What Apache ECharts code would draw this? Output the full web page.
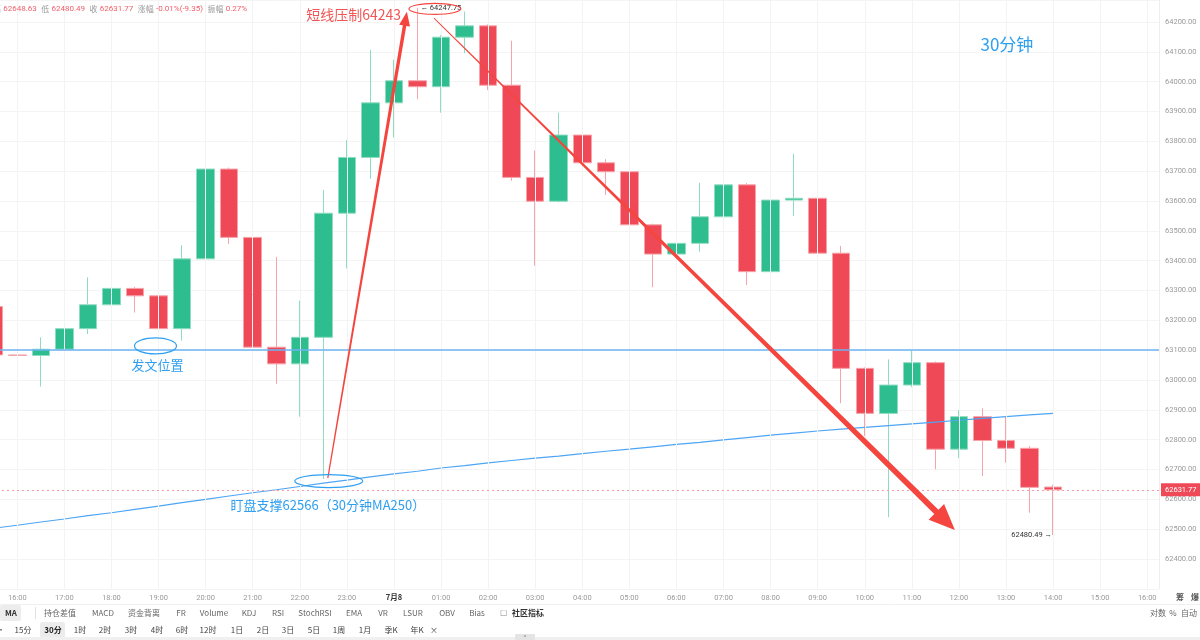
<!DOCTYPE html>
<html>
<head>
<meta charset="utf-8">
<script src="https://cdn.jsdelivr.net/npm/echarts@6.0.0/dist/echarts.min.js"></script>
<style>
html,body{margin:0;padding:0;background:#fff;overflow:hidden;width:1200px;height:640px;}
/* 画布向左多出 18px，让第一根K线只露出一点 */
#main{width:1218px;height:640px;margin-left:-18px;}
</style>
</head>
<body>
<div id="main"></div>
<script>
// 30分钟K线，07-07 15:30 ~ 07-08 16:00
var cats = [
  '07-07 15:30','07-07 16:00','07-07 16:30','07-07 17:00','07-07 17:30','07-07 18:00','07-07 18:30',
  '07-07 19:00','07-07 19:30','07-07 20:00','07-07 20:30','07-07 21:00','07-07 21:30','07-07 22:00',
  '07-07 22:30','07-07 23:00','07-07 23:30','07-08 00:00','07-08 00:30','07-08 01:00','07-08 01:30',
  '07-08 02:00','07-08 02:30','07-08 03:00','07-08 03:30','07-08 04:00','07-08 04:30','07-08 05:00',
  '07-08 05:30','07-08 06:00','07-08 06:30','07-08 07:00','07-08 07:30','07-08 08:00','07-08 08:30',
  '07-08 09:00','07-08 09:30','07-08 10:00','07-08 10:30','07-08 11:00','07-08 11:30','07-08 12:00',
  '07-08 12:30','07-08 13:00','07-08 13:30','07-08 14:00','07-08 14:30','07-08 15:00','07-08 15:30',
  '07-08 16:00'
];
var opens  = [63246,63084,63082,63103,63172,63252,63307,63282,63172,63406,63707,63478,63110,63054,63143,63559,
              63746,63929,64003,63983,64149,64187,63988,63679,63599,63821,63728,63698,63520,63422,63458,63547,
              63654,63363,63603,63609,63425,63039,62888,62983,63058,62768,62877,62797,62771,62641.12];
var closes = [63084,63082,63103,63172,63252,63307,63282,63172,63406,63707,63478,63110,63054,63143,63559,63746,
              63929,64003,63983,64149,64187,63988,63679,63599,63821,63728,63698,63520,63422,63458,63547,63654,
              63363,63603,63609,63425,63039,62888,62983,63058,62768,62877,62797,62771,62640,62631.77];
var lows   = [63075,63036,62978,63058,63154,63248,63226,63112,63132,63398,63456,63080,62987,62877,62668,63374,
              63674,63813,63941,63896,64095,63972,63668,63383,63595,63690,63620,63391,63311,63218,63430,63525,
              63318,63307,63550,63420,62922,62812,62540,62976,62701,62738,62678,62723,62555,62480.49];
var highs  = [63250,63184,63143,63248,63344,63464,63312,63286,63452,63877,63712,63482,63413,63266,63637,63804,
              64106,64073,64247.75,64156,64235,64192,64137,63769,63896,63902,63740,63862,63524,63508,63661,63706,
              63660,63676,63758,63648,63449,63042,63069,63098,63062,62899,62905,62879,62779,62648.63];
var ma250  = [62503,62513,62524,62534,62545,62555,62566,62577,62589,62600,62611,62622,62632,62643,62654,62664,
              62675,62685,62694,62705,62713,62722,62730,62738,62745,62753,62761,62768,62776,62784,62791,62799,
              62807,62815,62822,62829,62835,62841,62847,62853,62859,62865,62871,62877,62883,62888];
var lastPrice = 62631.77;
var postLevel = 63100;
var highMark = ['07-08 00:30', 64247.75];
var lowMark = ['07-08 14:00', 62480.49];

var up = '#2dbd8f', down = '#ef4957';
var cjk = '"Noto Sans CJK SC", "Noto Sans", sans-serif';
var num = 'Roboto, "Noto Sans", sans-serif';
var OX = 18; // 页面坐标 -> 画布坐标

var hourCats = cats.filter(function (c, i) { return i % 2 === 1; });
var candles = opens.map(function (o, i) { return [o, closes[i], lows[i], highs[i]]; });

var chart = echarts.init(document.getElementById('main'));

chart.setOption({
  animation: false,
  grid: { left: 0, right: 41, top: 0, bottom: 51.2 },
  xAxis: {
    type: 'category',
    data: cats,
    boundaryGap: true,
    axisLine: { show: false },
    axisTick: { show: false },
    splitLine: { show: false },
    axisLabel: {
      interval: function (i) { return i % 2 === 1; },
      margin: 5,
      fontSize: 7.5,
      fontFamily: num,
      color: '#9a9a9a',
      formatter: function (v) { return v === '07-08 00:00' ? '{d|7月8}' : v.slice(6); },
      rich: { d: { fontSize: 7.5, color: '#333', fontWeight: 'bold', fontFamily: cjk } }
    }
  },
  yAxis: {
    type: 'value',
    position: 'right',
    min: 62300,
    max: 64273.7,
    interval: 100,
    axisLine: { show: true, lineStyle: { color: '#eeeeee' } },
    axisTick: { show: false },
    splitLine: { lineStyle: { color: '#f4f4f4' } },
    axisLabel: {
      margin: 6,
      fontSize: 7.5,
      fontFamily: num,
      color: '#9a9a9a',
      showMinLabel: false,
      showMaxLabel: false,
      formatter: function (v) { return v.toFixed(2); }
    }
  },
  series: [
    {
      // 整点竖向网格
      type: 'line',
      data: [],
      silent: true,
      z: 0,
      markLine: {
        silent: true,
        symbol: 'none',
        label: { show: false },
        lineStyle: { color: '#f3f3f3', width: 1, type: 'solid' },
        data: hourCats.map(function (c) { return { xAxis: c }; })
      }
    },
    {
      type: 'candlestick',
      data: candles,
      barWidth: 18,
      itemStyle: {
        color: up,
        color0: down,
        borderColor: '#8fdcc0',
        borderColor0: '#f6a3aa',
        borderWidth: 1
      },
      markLine: {
        silent: true,
        symbol: 'none',
        lineStyle: { color: '#f59ca3', width: 1, type: [2, 3], opacity: 1 },
        label: {
          show: true,
          position: 'end',
          distance: 2,
          color: '#fff',
          backgroundColor: down,
          fontSize: 7.5,
          fontFamily: num,
          padding: [3, 4, 2, 4],
          formatter: function () { return lastPrice.toFixed(2); }
        },
        data: [{ yAxis: lastPrice }]
      },
      markPoint: {
        silent: true,
        symbolSize: 0,
        data: [
          { coord: highMark, label: { show: true, position: 'right', distance: 3, formatter: '← ' + highMark[1].toFixed(2), color: '#333', fontSize: 7.5, fontFamily: num } },
          { coord: lowMark, label: { show: true, position: 'left', distance: 1, formatter: lowMark[1].toFixed(2) + ' →', color: '#333', fontSize: 7.5, fontFamily: num } }
        ]
      }
    },
    {
      type: 'line',
      name: 'MA250',
      data: ma250,
      showSymbol: false,
      silent: true,
      lineStyle: { color: '#4ea5f4', width: 1.2 },
      markLine: {
        silent: true,
        symbol: 'none',
        label: { show: false },
        lineStyle: { color: '#6db4f3', width: 1.5, type: 'solid' },
        data: [{ yAxis: postLevel }]
      }
    }
  ]
});

// 标注：数据坐标 [类目序号(可带小数), 价格]
function px(i, v) {
  var a = chart.convertToPixel({ gridIndex: 0 }, [cats[0], v]);
  var b = chart.convertToPixel({ gridIndex: 0 }, [cats[1], v]);
  return [a[0] + (b[0] - a[0]) * i, a[1]];
}

function taper(p0, p1, w0, w1, hl, hw) {
  var dx = p1[0] - p0[0], dy = p1[1] - p0[1];
  var len = Math.sqrt(dx * dx + dy * dy);
  var ux = dx / len, uy = dy / len, nx = -uy, ny = ux;
  var bx = p1[0] - ux * hl, by = p1[1] - uy * hl;
  return [
    [p0[0] + nx * w0 / 2, p0[1] + ny * w0 / 2],
    [bx + nx * w1 / 2, by + ny * w1 / 2],
    [bx + nx * hw, by + ny * hw],
    [p1[0], p1[1]],
    [bx - nx * hw, by - ny * hw],
    [bx - nx * w1 / 2, by - ny * w1 / 2],
    [p0[0] - nx * w0 / 2, p0[1] - ny * w0 / 2]
  ];
}

var red = '#f4463f', blue = '#2f9ff0';
var g = [];

g.push({ type: 'polygon', silent: true, z: 100, shape: { points: taper(px(14.19, 62671), px(17.55, 64234), 1.2, 3.5, 14, 5.5) }, style: { fill: red } });
g.push({ type: 'polygon', silent: true, z: 100, shape: { points: taper(px(18.70, 64213), px(40.83, 62497), 0.8, 6, 26, 11) }, style: { fill: red } });

function ell(i, v, rx, ry, color) {
  var c = px(i, v);
  return { type: 'ellipse', silent: true, z: 100, shape: { cx: c[0], cy: c[1], rx: rx, ry: ry }, style: { fill: null, stroke: color, lineWidth: 1.2 } };
}
g.push(ell(6.87, 63114, 21, 8, blue));
g.push(ell(14.23, 62661, 34, 6.5, blue));
g.push(ell(18.74, 64244, 26, 5.5, red));

function txt(i, v, s, size, color, align) {
  var c = px(i, v);
  return { type: 'text', silent: true, z: 100, style: { text: s, x: c[0], y: c[1], fill: color, fontSize: size, fontFamily: cjk, align: align, verticalAlign: 'middle' } };
}
g.push(txt(17.3, 64223, '短线压制64243', 14, '#f25555', 'right'));
g.push(txt(6.96, 63050, '发文位置', 13, blue, 'center'));
g.push(txt(10.06, 62581, '盯盘支撑62566（30分钟MA250）', 13, blue, 'left'));
g.push(txt(43.04, 64126, '30分钟', 17, blue, 'center'));

// 顶部行情信息
g.push({
  type: 'text', silent: true, z: 100,
  style: {
    x: OX - 7, y: 9, verticalAlign: 'middle',
    text: '{l|高} {v|62648.63}  {l|低} {v|62480.49}  {l|收} {v|62631.77}  {l|涨幅} {v|-0.01%(-9.35)}  {l|振幅} {v|0.27%}',
    rich: {
      l: { fill: '#999', fontSize: 8, fontFamily: cjk },
      v: { fill: '#f0606b', fontSize: 8, fontFamily: num }
    },
    fontSize: 8
  }
});

// 底部工具栏（页面坐标 + OX）
g.push({ type: 'line', silent: true, shape: { x1: 0, y1: 604.5, x2: 1218, y2: 604.5 }, style: { stroke: '#f0f0f0', lineWidth: 1 } });
g.push({ type: 'rect', silent: true, shape: { x: OX, y: 605, width: 21, height: 16, r: 2 }, style: { fill: '#ececec' } });
g.push({ type: 'rect', silent: true, shape: { x: OX + 40, y: 622, width: 25, height: 16, r: 2 }, style: { fill: '#ececec' } });
g.push({ type: 'line', silent: true, shape: { x1: OX + 35.5, y1: 607, x2: OX + 35.5, y2: 619 }, style: { stroke: '#e2e2e2', lineWidth: 1 } });
g.push({ type: 'rect', silent: true, shape: { x: 0, y: 637, width: 1218, height: 3 }, style: { fill: '#f0f0f0' } });
g.push({ type: 'rect', silent: true, shape: { x: OX + 515, y: 634, width: 20, height: 6, r: 1 }, style: { fill: '#e4e4e4' } });
g.push({ type: 'text', silent: true, style: { text: '^', x: OX + 525, y: 637, fill: '#777', fontSize: 6, fontFamily: num, align: 'center', verticalAlign: 'middle' } });

function tool(s, x, y, color, bold) {
  return { type: 'text', silent: true, style: { text: s, x: OX + x, y: y, fill: color, fontSize: 8, fontWeight: bold ? 'bold' : 'normal', fontFamily: cjk, align: 'center', verticalAlign: 'middle' } };
}
var row1 = [['MA', 11], ['持仓差值', 60], ['MACD', 103], ['资金背离', 144], ['FR', 181], ['Volume', 214], ['KDJ', 249],
            ['RSI', 278], ['StochRSI', 315], ['EMA', 354], ['VR', 383], ['LSUR', 413], ['OBV', 447], ['Bias', 477]];
row1.forEach(function (r, k) { g.push(tool(r[0], r[1], 613, k === 0 ? '#333' : '#666', k === 0)); });
g.push(tool('☐', 503, 613, '#888', false));
g.push(tool('社区指标', 528, 613, '#333', true));
var row2 = [['·', 1], ['15分', 23], ['30分', 53], ['1时', 80], ['2时', 105], ['3时', 131], ['4时', 157], ['6时', 182],
            ['12时', 208], ['1日', 237], ['2日', 263], ['3日', 288], ['5日', 314], ['1周', 339], ['1月', 365],
            ['季K', 391], ['年K', 417], ['×', 434]];
row2.forEach(function (r) { g.push(tool(r[0], r[1], 630, r[0] === '30分' ? '#222' : '#444', r[0] === '30分')); });
g.push(tool('筹', 1180, 597, '#555', true));
g.push(tool('爆', 1195, 597, '#555', true));
g.push(tool('对数', 1158, 613, '#666', false));
g.push(tool('%', 1173, 613, '#666', false));
g.push(tool('自动', 1189, 613, '#666', false));

chart.setOption({ graphic: g });
</script>
</body>
</html>
